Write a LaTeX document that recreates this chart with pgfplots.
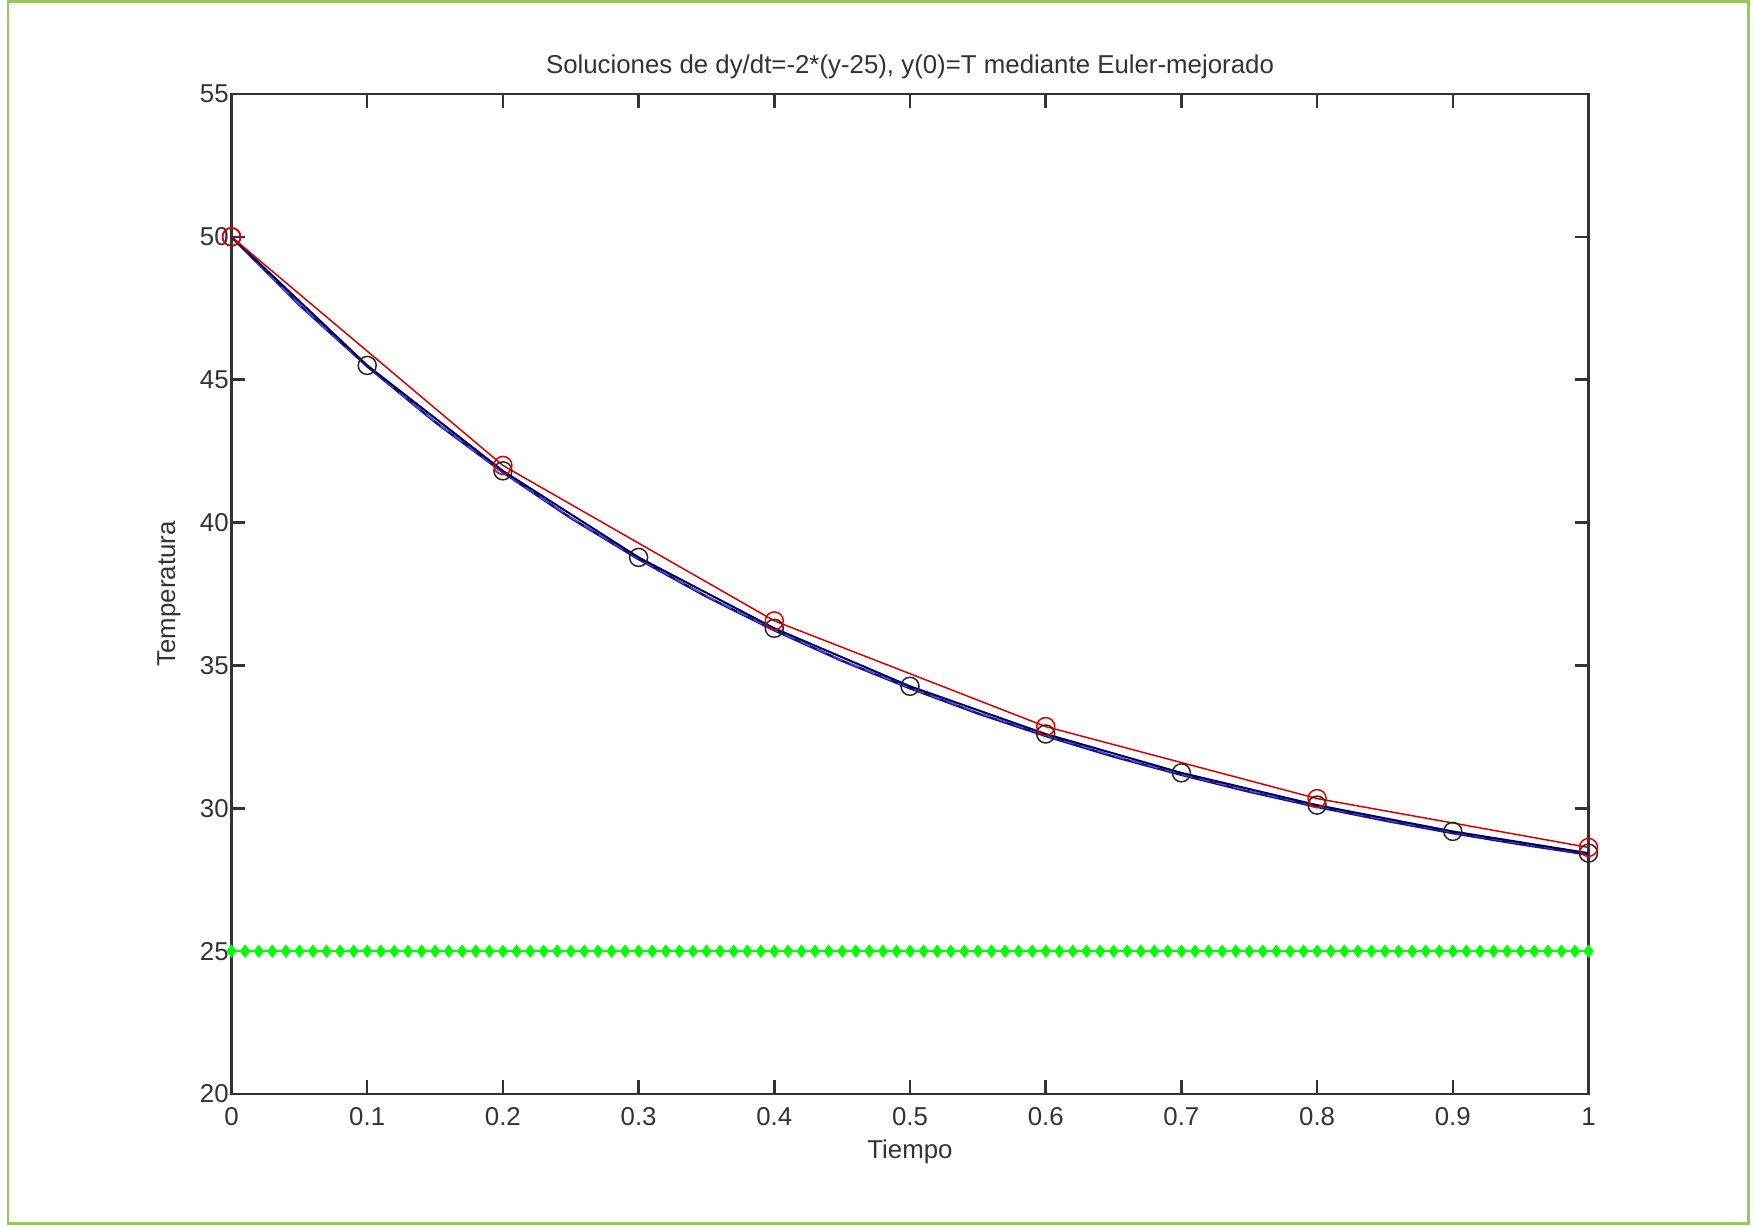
\documentclass[border=0pt]{standalone}
\usepackage{fontspec}
\setmainfont{Liberation Sans}
\usepackage{pgfplots}
\pgfplotsset{compat=1.18}

\definecolor{frameg}{RGB}{150,198,92}
\definecolor{mgreen}{RGB}{0,255,0}
\definecolor{mnavy}{RGB}{20,20,140}

\newcommand{\mfont}{\fontsize{7.35}{9}\selectfont}

\begin{document}
\begin{tikzpicture}
% whole page, 1 px = 0.1 mm
\path (0,0) rectangle (175.4mm,122.7mm);
\draw[frameg, line width=0.3mm] (0.8mm,0.3mm) rectangle (174.8mm,122.5mm);

\begin{axis}[
  at={(23.15mm,13.3mm)},
  anchor=south west,
  scale only axis,
  width=135.7mm, height=100mm,
  xmin=0, xmax=1, ymin=20, ymax=55,
  xtick={0,0.1,...,1}, ytick={20,25,...,55},
  tick align=inside,
  major tick length=1.4mm,
  tick style={black!80, line width=0.25mm},
  axis line style={black!80, line width=0.25mm},
  /pgf/number format/assume math mode=true,
  ticklabel style={font=\mfont, text=black!80},
  xticklabel style={yshift=-0.1mm},
  yticklabel style={inner sep=0.6pt},
  title={Soluciones de dy/dt=-2*(y-25), y(0)=T mediante Euler-mejorado},
  title style={font=\mfont, text=black!80, at={(axis description cs:0.5,1.006)}, anchor=center, yshift=0pt},
  xlabel={Tiempo},
  xlabel style={font=\mfont, text=black!80, at={(axis description cs:0.5,-0.058)}, anchor=center},
  ylabel={Temperatura},
  ylabel style={font=\mfont, text=black!80, at={(axis description cs:-0.0462,0.5)}, anchor=center, rotate=0},
  clip=false,
]

% equilibrium y = 25
\addplot[mgreen, line width=0.15mm, mark=diamond*, mark size=0.55mm, mark options={fill=mgreen, draw=mgreen}]
coordinates {
(0.00,25)(0.01,25)(0.02,25)(0.03,25)(0.04,25)(0.05,25)(0.06,25)(0.07,25)(0.08,25)(0.09,25)
(0.10,25)(0.11,25)(0.12,25)(0.13,25)(0.14,25)(0.15,25)(0.16,25)(0.17,25)(0.18,25)(0.19,25)
(0.20,25)(0.21,25)(0.22,25)(0.23,25)(0.24,25)(0.25,25)(0.26,25)(0.27,25)(0.28,25)(0.29,25)
(0.30,25)(0.31,25)(0.32,25)(0.33,25)(0.34,25)(0.35,25)(0.36,25)(0.37,25)(0.38,25)(0.39,25)
(0.40,25)(0.41,25)(0.42,25)(0.43,25)(0.44,25)(0.45,25)(0.46,25)(0.47,25)(0.48,25)(0.49,25)
(0.50,25)(0.51,25)(0.52,25)(0.53,25)(0.54,25)(0.55,25)(0.56,25)(0.57,25)(0.58,25)(0.59,25)
(0.60,25)(0.61,25)(0.62,25)(0.63,25)(0.64,25)(0.65,25)(0.66,25)(0.67,25)(0.68,25)(0.69,25)
(0.70,25)(0.71,25)(0.72,25)(0.73,25)(0.74,25)(0.75,25)(0.76,25)(0.77,25)(0.78,25)(0.79,25)
(0.80,25)(0.81,25)(0.82,25)(0.83,25)(0.84,25)(0.85,25)(0.86,25)(0.87,25)(0.88,25)(0.89,25)
(0.90,25)(0.91,25)(0.92,25)(0.93,25)(0.94,25)(0.95,25)(0.96,25)(0.97,25)(0.98,25)(0.99,25)
(1.00,25)
};

% fine steps (near the exact curve)
\addplot[mnavy, line width=0.25mm]
coordinates {
(0.00,50.00)(0.05,47.62)(0.10,45.47)(0.15,43.52)(0.20,41.76)(0.25,40.16)
(0.30,38.72)(0.35,37.41)(0.40,36.23)(0.45,35.16)(0.50,34.20)(0.55,33.32)
(0.60,32.53)(0.65,31.81)(0.70,31.17)(0.75,30.58)(0.80,30.05)(0.85,29.57)
(0.90,29.13)(0.95,28.74)(1.00,28.38)
};
\addplot[blue!70, line width=0.15mm, densely dashed]
coordinates {
(0.00,50.00)(0.05,47.63)(0.10,45.48)(0.15,43.53)(0.20,41.77)(0.25,40.18)
(0.30,38.74)(0.35,37.43)(0.40,36.25)(0.45,35.18)(0.50,34.22)(0.55,33.35)
(0.60,32.56)(0.65,31.84)(0.70,31.19)(0.75,30.61)(0.80,30.08)(0.85,29.60)
(0.90,29.16)(0.95,28.77)(1.00,28.41)
};

% h = 0.1
\addplot[black!70!blue, line width=0.2mm, mark=o, mark size=0.9mm, mark options={black!85, line width=0.15mm}]
coordinates {
(0.0,50.00)(0.1,45.50)(0.2,41.81)(0.3,38.78)(0.4,36.30)(0.5,34.27)
(0.6,32.60)(0.7,31.24)(0.8,30.11)(0.9,29.19)(1.0,28.43)
};

% h = 0.2
\addplot[red!85!black, line width=0.15mm, mark=o, mark size=0.9mm, mark options={red!90!black, line width=0.15mm}]
coordinates {
(0.0,50.00)(0.2,42.00)(0.4,36.56)(0.6,32.86)(0.8,30.34)(1.0,28.63)
};

\end{axis}
\end{tikzpicture}
\end{document}
